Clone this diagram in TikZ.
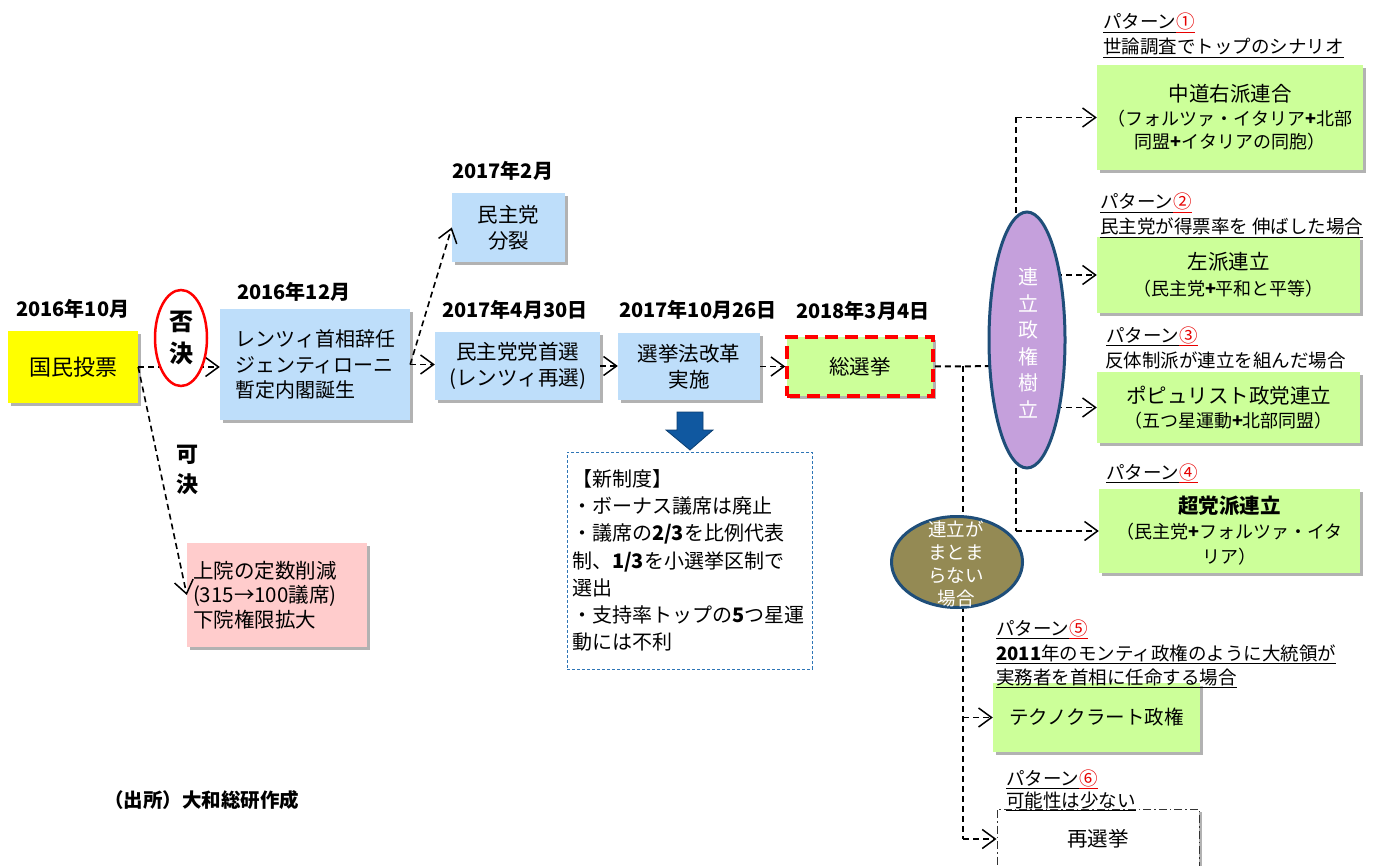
\documentclass[tikz,border=0pt]{standalone}
\usepackage{fontspec}
\setmainfont{Noto Sans CJK JP}
\usetikzlibrary{arrows.meta,shadows,shapes.geometric}
\definecolor{bluebox}{RGB}{190,222,250}
\definecolor{greenbox}{RGB}{204,255,153}
\definecolor{pinkbox}{RGB}{255,204,204}
\definecolor{yellowbox}{RGB}{255,255,0}
\definecolor{purplefill}{RGB}{197,160,220}
\definecolor{olivefill}{RGB}{148,138,84}
\definecolor{navyline}{RGB}{31,78,121}
\definecolor{arrowblue}{RGB}{16,88,160}
\definecolor{dashblue}{RGB}{46,117,182}
\definecolor{circred}{RGB}{230,0,0}
\newcommand{\ulin}[1]{\setbox0\hbox{#1}\rlap{\rule[-4pt]{\wd0}{1.3pt}}\box0}
\newcommand{\pat}[1]{\ulin{パターン}\textcolor{circred}{\ulin{#1}}}
\begin{document}
\begin{tikzpicture}[x=1pt,y=-1pt,
  box/.style={rectangle, inner sep=0pt, align=center,
    drop shadow={shadow xshift=3pt,shadow yshift=-3pt,fill=black,opacity=0.3},
    font=\fontsize{20.5}{26}\selectfont},
  datelabel/.style={anchor=base west, inner sep=0pt, font=\bfseries\fontsize{20}{20}\selectfont},
  headlabel/.style={anchor=base west, inner sep=0pt, font=\fontsize{18.5}{18.5}\selectfont},
  link/.style={dash pattern=on 6pt off 4pt, line width=1.6pt,
    -{Straight Barb[length=13pt,width=19pt,line width=1.5pt]}},
  trunk/.style={dash pattern=on 6pt off 4pt, line width=2pt},
]
\useasboundingbox (0,0) rectangle (1386,866);
\clip (0,0) rectangle (1386,866);

% ---------- boxes ----------
\node[box, fill=yellowbox, minimum width=130pt, minimum height=72pt, font=\fontsize{22}{26}\selectfont] (vote) at (73,367) {国民投票};
\node[box, fill=bluebox, minimum width=190pt, minimum height=111pt, align=left, font=\fontsize{20}{25.5}\selectfont] (renzi) at (315,364.5) {レンツィ首相辞任\\ジェンティローニ\\暫定内閣誕生};
\node[box, fill=bluebox, minimum width=113pt, minimum height=69pt] (split) at (508.5,227.5) {民主党\\分裂};
\node[box, fill=bluebox, minimum width=165pt, minimum height=68pt] (leader) at (517.5,366) {民主党党首選\\(レンツィ再選)};
\node[box, fill=bluebox, minimum width=142pt, minimum height=67pt] (reform) at (689,366.5) {選挙法改革\\実施};
\node[box, fill=greenbox, draw=red, line width=3.5pt, dash pattern=on 13pt off 7pt, minimum width=146pt, minimum height=59pt] (election) at (860,366.5) {総選挙};
\node[box, fill=pinkbox, minimum width=180pt, minimum height=104pt, text width=168pt, align=left, inner xsep=6pt, font=\fontsize{20.5}{24.5}\selectfont] (upper) at (277,595) {上院の定数削減\\(315→100議席)\\下院権限拡大};
\node[rectangle, fill=white, draw=dashblue, line width=1pt, dash pattern=on 3pt off 2pt, minimum width=245pt, minimum height=217pt, text width=235pt, inner xsep=5pt, align=left, font=\fontsize{20}{27.2}\selectfont] (newsys) at (689.5,560.5) {【新制度】\\・ボーナス議席は廃止\\・議席の\textbf{2/3}を比例代表\\制、\textbf{1/3}を小選挙区制で\\選出\\・支持率トップの\textbf{5}つ星運\\動には不利};

\node[box, fill=greenbox, minimum width=266pt, minimum height=105pt, font=\fontsize{18}{23.5}\selectfont] (p1) at (1230,117.5) {{\fontsize{20.5}{23.5}\selectfont 中道右派連合}\\（フォルツァ・イタリア\textbf{+}北部\\同盟\textbf{+}イタリアの同胞）};
\node[box, fill=greenbox, minimum width=263pt, minimum height=76pt, font=\fontsize{18}{26}\selectfont] (p2) at (1228.5,275) {{\fontsize{20.5}{26}\selectfont 左派連立}\\（民主党\textbf{+}平和と平等）};
\node[box, fill=greenbox, minimum width=263pt, minimum height=71pt, font=\fontsize{18}{23.5}\selectfont] (p3) at (1228.5,407.5) {{\fontsize{20.5}{23.5}\selectfont ポピュリスト政党連立}\\（五つ星運動\textbf{+}北部同盟）};
\node[box, fill=greenbox, minimum width=261pt, minimum height=84pt, font=\fontsize{18}{25}\selectfont] (p4) at (1229.5,531) {{\bfseries\fontsize{20.5}{25}\selectfont 超党派連立}\\（民主党\textbf{+}フォルツァ・イタ\\リア）};
\node[box, fill=greenbox, minimum width=207pt, minimum height=69pt, font=\fontsize{19.5}{24}\selectfont] (p5) at (1096.5,717.5) {テクノクラート政権};
\node[box, fill=white, draw=black!80, line width=1pt, dash pattern=on 8pt off 3pt on 1.5pt off 3pt, minimum width=202pt, minimum height=60pt] (p6) at (1098,839) {再選挙};

% ---------- connectors ----------
\draw[link] (vote.east) -- (vote.east -| renzi.west);
\draw[link] (vote.east) -- (upper.west);
\draw[link] (renzi.east) -- (split.west);
\draw[link] (renzi.east) -- (renzi.east -| leader.west);
\draw[link] (leader.east) -- (leader.east -| reform.west);
\draw[link] (reform.east) -- (reform.east -| election.west);

\coordinate (ctrunk) at (1016,366);
\coordinate (ntrunk) at (963,366);
\draw[trunk] (election.east) -- (ctrunk);
\draw[trunk] (p1.west -| ctrunk) -- (p4.west -| ctrunk);
\draw[link] (p1.west -| ctrunk) -- (p1.west);
\draw[link] (p2.west -| ctrunk) -- (p2.west);
\draw[link] (p3.west -| ctrunk) -- (p3.west);
\draw[link] (p4.west -| ctrunk) -- (p4.west);
\draw[trunk] (ntrunk) -- (p6.west -| ntrunk);
\draw[link] (p5.west -| ntrunk) -- (p5.west);
\draw[link] (p6.west -| ntrunk) -- (p6.west);

% ---------- ellipses ----------
\node[ellipse, draw=red, line width=2.5pt, fill=white, minimum width=52pt, minimum height=96pt, inner sep=0pt, align=center, font=\bfseries\fontsize{24}{32}\selectfont] (reject) at (181,338) {否\\決};
\node[ellipse, draw=navyline, line width=3pt, fill=purplefill, minimum width=76pt, minimum height=256pt, inner sep=0pt] (coal) at (1027,340) {};
\node[text=white, inner sep=0pt, align=center, font=\fontsize{20}{26.6}\selectfont] (coaltxt) at (1028,343) {連\\立\\政\\権\\樹\\立};
\node[ellipse, draw=navyline, line width=3pt, fill=olivefill, minimum width=131pt, minimum height=91pt, inner sep=0pt] (nocoal) at (957,562) {};
\node[text=white, inner sep=0pt, align=center, font=\fontsize{18.5}{23}\selectfont] (nocoaltxt) at (956,564) {連立が\\まとま\\らない\\場合};

% ---------- block arrow ----------
\filldraw[fill=arrowblue, draw=arrowblue!70!black, line width=0.8pt]
  (677,412) -- (703,412) -- (703,430) -- (713,430) -- (690,450) -- (666,430) -- (677,430) -- cycle;

% ---------- labels ----------
\node[inner sep=0pt, align=center, font=\bfseries\fontsize{22}{30}\selectfont] (pass) at (187,470) {可\\決};
\node[datelabel] (d1) at (16,317) {2016年10月};
\node[datelabel] (d2) at (237,300) {2016年12月};
\node[datelabel] (d3) at (452,179) {2017年2月};
\node[datelabel] (d4) at (442,318) {2017年4月30日};
\node[datelabel] (d5) at (619,318) {2017年10月26日};
\node[datelabel] (d6) at (796,319) {2018年3月4日};

\node[headlabel] (h1a) at (1103,29) {\pat{①}};
\node[headlabel] (h1b) at (1103,54) {\ulin{世論調査でトップのシナリオ}};
\node[headlabel] (h2a) at (1100,209) {\pat{②}};
\node[headlabel] (h2b) at (1100,234) {\ulin{民主党が得票率を 伸ばした場合}};
\node[headlabel] (h3a) at (1106,342) {\pat{③}};
\node[headlabel] (h3b) at (1105,367) {反体制派が連立を組んだ場合};
\node[headlabel] (h4a) at (1106,479) {\pat{④}};
\node[headlabel] (h5a) at (996,635) {\pat{⑤}};
\node[headlabel] (h5b) at (996,660) {\ulin{\textbf{2011}年のモンティ政権のように大統領が}};
\node[headlabel] (h5c) at (996,684) {\ulin{実務者を首相に任命する場合}};
\node[headlabel] (h6a) at (1006,785) {\pat{⑥}};
\node[headlabel] (h6b) at (1006,807) {\ulin{可能性は少ない}};

\node[anchor=base west, inner sep=0pt, font=\bfseries\fontsize{19.5}{19.5}\selectfont] (src) at (104,807) {（出所）大和総研作成};
\end{tikzpicture}
\end{document}
